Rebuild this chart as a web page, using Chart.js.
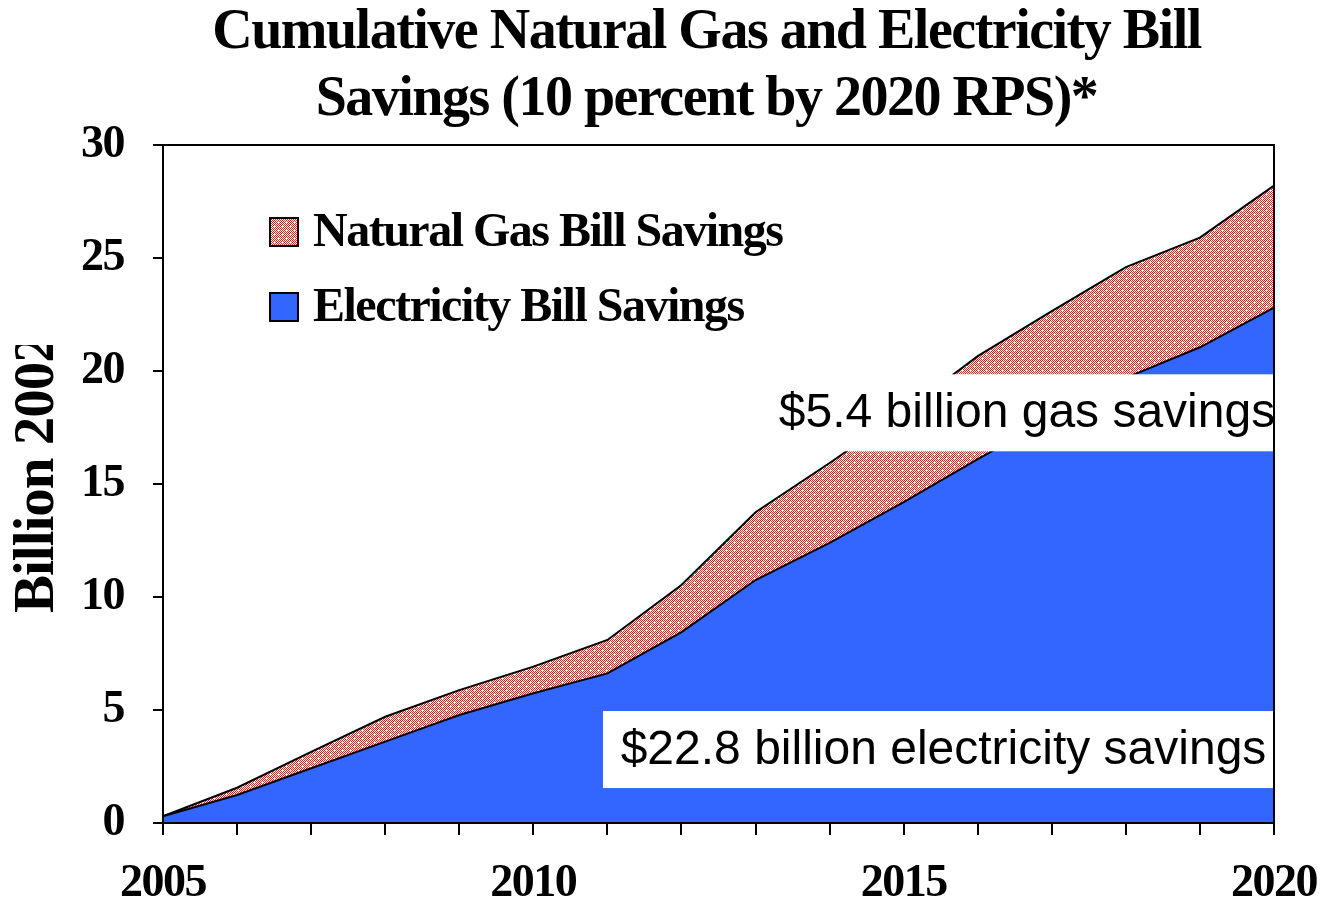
<!DOCTYPE html>
<html>
<head>
<meta charset="utf-8">
<script src="https://cdn.jsdelivr.net/npm/chart.js@4.4.1/dist/chart.umd.min.js"></script>
<style>
  html, body { margin: 0; padding: 0; background: #fff; }
  #wrap { width: 1324px; height: 906px; }
</style>
</head>
<body>
<div id="wrap"><canvas id="savingsChart"></canvas></div>
<script>
// cumulative savings, billion 2002 dollars
const years = ['2005', '2006', '2007', '2008', '2009', '2010', '2011', '2012',
	'2013', '2014', '2015', '2016', '2017', '2018', '2019', '2020'];
const electricitySavings = [0.3, 1.24, 2.42, 3.6, 4.78, 5.74, 6.62, 8.45,
	10.75, 12.39, 14.2, 16.1, 17.9, 19.7, 21.05, 22.8];
const gasSavings = [0.0, 0.32, 0.73, 1.1, 1.1, 1.18, 1.48, 2.08,
	3.0, 3.54, 4.0, 4.56, 4.75, 4.9, 4.85, 5.4];
const yTicks = [0, 5, 10, 15, 20, 25, 30];
const labelledYears = ['2005', '2010', '2015', '2020'];
const titleLines = ['Cumulative Natural Gas and Electricity Bill', 'Savings (10 percent by 2020 RPS)*'];
const yTitle = 'Billion 2002$';

const SERIF = '"Liberation Serif", "Times New Roman", serif';
const SANS = '"Liberation Sans", Arial, sans-serif';
const electricBlue = '#3366ff';

const canvas = document.getElementById('savingsChart');
const ctx = canvas.getContext('2d');

// red/white checker with little white crosses
function makeDotPattern(c2d) {
	const tile = document.createElement('canvas');
	tile.width = 8;
	tile.height = 8;
	const c = tile.getContext('2d');
	for (let y = 0; y < 8; y++) {
		for (let x = 0; x < 8; x++) {
			c.fillStyle = (x + y) % 2 ? '#ffffff' : '#ff1f1f';
			c.fillRect(x, y, 1, 1);
		}
	}
	c.fillStyle = '#ffffff';
	[[2, 2], [6, 6]].forEach(([x, y]) => {
		c.fillRect(x - 1, y, 3, 1);
		c.fillRect(x, y - 1, 1, 3);
	});
	return c2d.createPattern(tile, 'repeat');
}
const gasFill = makeDotPattern(ctx);

// bold serif text is set tight
const tightSerif = {
	id: 'tightSerif',
	beforeLayout(chart) { chart.ctx.letterSpacing = '-1.5px'; },
	afterLayout(chart) {
		// nudge the title a little left of the plot centre
		const t = chart.titleBlock;
		if (t) { t.left -= 12; t.right -= 12; }
	},
	beforeDraw(chart) { chart.ctx.letterSpacing = '-1.5px'; }
};

const callouts = {
	id: 'callouts',
	afterDatasetsDraw(chart) {
		const { ctx, chartArea, scales } = chart;
		const last = years.length - 1;
		const notes = [
			{ text: '$' + gasSavings[last] + ' billion gas savings', left: 770, mid: 18.15 },
			{ text: '$' + electricitySavings[last] + ' billion electricity savings', left: 603, mid: 3.25 }
		];
		ctx.save();
		ctx.letterSpacing = '0px';
		ctx.font = '48px ' + SANS;
		ctx.textAlign = 'center';
		ctx.textBaseline = 'middle';
		notes.forEach(n => {
			const cy = scales.y.getPixelForValue(n.mid);
			ctx.fillStyle = '#ffffff';
			ctx.fillRect(n.left, cy - 38.5, chartArea.right - n.left, 77);
			ctx.fillStyle = '#000000';
			ctx.fillText(n.text, (n.left + chartArea.right) / 2 + 5, cy + 1);
		});

		// plot frame
		ctx.strokeStyle = '#000000';
		ctx.lineWidth = 2;
		ctx.strokeRect(chartArea.left, chartArea.top, chartArea.width, chartArea.height);
		ctx.restore();
	}
};

const boxLegend = {
	id: 'boxLegend',
	afterDatasetsDraw(chart) {
		const { ctx, chartArea } = chart;
		const ds = chart.data.datasets;
		const entries = [ds[1], ds[0]];
		ctx.save();
		ctx.letterSpacing = '-1.5px';
		ctx.font = 'bold 48px ' + SERIF;
		ctx.textBaseline = 'middle';
		ctx.textAlign = 'left';
		entries.forEach((d, i) => {
			const x = chartArea.left + 107;
			const y = chartArea.top + 73 + i * 75;
			ctx.fillStyle = d.backgroundColor;
			ctx.fillRect(x, y, 28, 28);
			ctx.strokeStyle = '#000000';
			ctx.lineWidth = 2;
			ctx.strokeRect(x, y, 28, 28);
			ctx.fillStyle = '#000000';
			ctx.fillText(d.label, x + 43, y + 16);
		});
		ctx.restore();
	}
};

// rotated axis title, cut off at the top like the original slide
const axisTitle = {
	id: 'axisTitle',
	afterDraw(chart) {
		const { ctx } = chart;
		ctx.save();
		ctx.beginPath();
		ctx.rect(0, 345, 70, 561);
		ctx.clip();
		ctx.translate(53, 613);
		ctx.rotate(-Math.PI / 2);
		ctx.letterSpacing = '-1px';
		ctx.font = 'bold 57px ' + SERIF;
		ctx.textAlign = 'left';
		ctx.textBaseline = 'alphabetic';
		ctx.fillStyle = '#000000';
		ctx.fillText(yTitle, 0, 0);
		ctx.restore();
	}
};

const tickFont = size => ({ family: SERIF, size: size, weight: 'bold' });

new Chart(ctx, {
	type: 'line',
	data: {
		labels: years,
		datasets: [{
			label: 'Electricity Bill Savings',
			data: electricitySavings,
			backgroundColor: electricBlue,
			borderColor: '#000000',
			borderWidth: 2,
			fill: 'origin',
			pointRadius: 0,
			tension: 0
		}, {
			label: 'Natural Gas Bill Savings',
			data: gasSavings,
			backgroundColor: gasFill,
			borderColor: '#000000',
			borderWidth: 2,
			fill: '-1',
			pointRadius: 0,
			tension: 0
		}]
	},
	options: {
		responsive: true,
		maintainAspectRatio: false,
		animation: false,
		layout: { padding: { left: 0, right: 50, top: 0, bottom: 0 } },
		plugins: {
			legend: { display: false },
			tooltip: { enabled: false },
			title: {
				display: true,
				text: titleLines,
				color: '#000000',
				fullSize: false,
				font: { family: SERIF, size: 56, weight: 'bold', lineHeight: 1.2 },
				padding: { top: 0, bottom: 10.6 }
			}
		},
		scales: {
			x: {
				offset: false,
				grid: { drawOnChartArea: false, drawTicks: true, tickLength: 12, color: '#000000', lineWidth: 2 },
				border: { display: true, color: '#000000', width: 2 },
				ticks: {
					autoSkip: false,
					maxRotation: 0,
					padding: 22,
					color: '#000000',
					font: tickFont(46),
					callback(value) {
						const yr = this.getLabelForValue(value);
						return labelledYears.includes(yr) ? yr : '';
					}
				},
				afterFit(scale) {
					scale.height = 83;
					scale.paddingLeft = 0;
					scale.paddingRight = 0;
				}
			},
			y: {
				stacked: true,
				min: 0,
				max: 30,
				grid: { drawOnChartArea: false, drawTicks: true, tickLength: 10, color: '#000000', lineWidth: 2 },
				border: { display: true, color: '#000000', width: 2 },
				ticks: { padding: 29, color: '#000000', font: tickFont(46) },
				afterBuildTicks(scale) { scale.ticks = yTicks.map(v => ({ value: v })); },
				afterFit(scale) {
					scale.width = 163;
					scale.paddingTop = 0;
					scale.paddingBottom = 0;
				}
			}
		}
	},
	plugins: [tightSerif, callouts, boxLegend, axisTitle]
});
</script>
</body>
</html>
